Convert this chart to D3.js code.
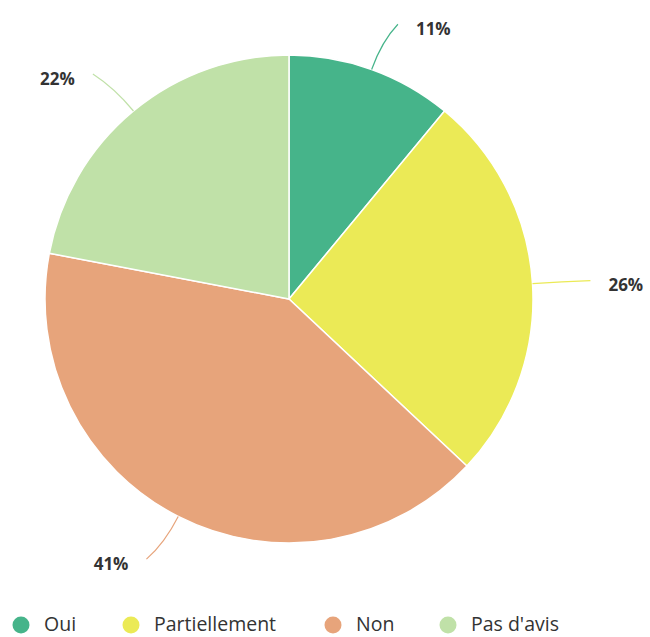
<!DOCTYPE html>
<html><head><meta charset="utf-8">
<script src="https://cdn.jsdelivr.net/npm/d3@7"></script>
<style>body{margin:0;background:#fff;}svg{display:block;font-family:"Open Sans",sans-serif;}</style>
</head><body>
<svg id="chart" width="650" height="637"></svg>
<script>
const categories = ["Oui", "Partiellement", "Non", "Pas d'avis"];
const values = [11, 26, 41, 22];
const colors = ["#46b48a", "#ebea56", "#e7a47b", "#c0e1a8"];

const svg = d3.select("#chart");
const cx = 289, cy = 299, R = 244;
const g = svg.append("g").attr("transform", `translate(${cx},${cy})`);

const pie = d3.pie().sort(null).value(d => d.v);
const data = categories.map((c, i) => ({c, v: values[i], col: colors[i]}));
const arcs = pie(data);
const arc = d3.arc().innerRadius(0).outerRadius(R);

g.selectAll("path.slice").data(arcs).enter().append("path")
  .attr("class", "slice")
  .attr("d", arc)
  .attr("fill", d => d.data.col)
  .attr("stroke", "#fff").attr("stroke-width", 1.5);

const pt = (a, r) => [r * Math.sin(a), -r * Math.cos(a)];
arcs.forEach(d => {
  const a = (d.startAngle + d.endAngle) / 2;
  const side = Math.sin(a) >= 0 ? 1 : -1;
  const p0 = pt(a, R);
  const p1 = pt(a, R + 30);
  const e = pt(a, R + 48);
  const p2 = [e[0] + side * 10, e[1]];
  g.append("path")
    .attr("d", `M${p0[0]},${p0[1]} Q${p1[0]},${p1[1]} ${p2[0]},${p2[1]}`)
    .attr("fill", "none").attr("stroke", d.data.col).attr("stroke-width", 1.2);
  g.append("text")
    .attr("x", p2[0] + side * 18).attr("y", p2[1] + 4)
    .attr("text-anchor", side > 0 ? "start" : "end")
    .attr("dominant-baseline", "central")
    .attr("font-size", 17).attr("font-weight", "bold").attr("fill", "#333")
    .text(d.data.v + "%");
});

// legend
const legX = [21, 131, 333, 448];
const leg = svg.append("g");
data.forEach((d, i) => {
  leg.append("circle").attr("cx", legX[i]).attr("cy", 625).attr("r", 8.5).attr("fill", d.col);
  leg.append("text").attr("x", legX[i] + 23).attr("y", 631)
    .attr("font-size", 19.5).attr("fill", "#333")
    .text(d.c);
});
</script>
</body></html>
